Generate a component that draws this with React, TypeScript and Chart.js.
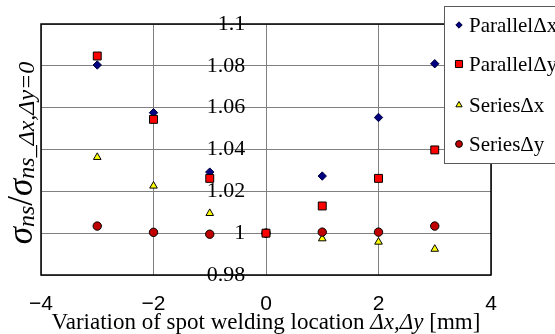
import React, { useEffect, useRef } from 'react';
import { Chart, registerables } from 'chart.js';

Chart.register(...registerables);

const xPositions = [-3, -2, -1, 0, 1, 2, 3];
const parallelDx = [1.0804, 1.0576, 1.0292, 1.0, 1.0273, 1.0553, 1.081];
const parallelDy = [1.0847, 1.0544, 1.0262, 1.0, 1.013, 1.0262, 1.0398];
const seriesDx = [1.0363, 1.0226, 1.0095, 1.0, 0.9974, 0.9958, 0.9924];
const seriesDy = [1.0034, 1.0004, 0.9995, 1.0, 1.0005, 1.0005, 1.0034];
const seriesNames = ['ParallelΔx', 'ParallelΔy', 'SeriesΔx', 'SeriesΔy'];
const xTicks = [-4, -2, 0, 2, 4];
const xTickLabels = ['−4', '−2', '0', '2', '4'];
const yTicks = [0.98, 1, 1.02, 1.04, 1.06, 1.08, 1.1];
const yTickLabels = ['0.98', '1', '1.02', '1.04', '1.06', '1.08', '1.1'];

const SERIF = "'Liberation Serif', 'Times New Roman', serif";
const SANS = "'Liberation Sans', Arial, sans-serif";

// y-axis label anchor (x-units), labels sit just left of the zero line
const Y_LABEL_ANCHOR = -0.37;

const markerStyles = [
  { shape: 'rectRot', fill: '#000080', stroke: '#00003a', radius: 4.2, order: 1 },
  { shape: 'rect', fill: '#ff0000', stroke: '#000000', radius: 5.6, order: 0 },
  { shape: 'triangle', fill: '#ffff00', stroke: '#000000', radius: 4.4, order: 3 },
  { shape: 'circle', fill: '#c00000', stroke: '#000000', radius: 4.2, order: 2 },
];

function drawMarker(ctx: CanvasRenderingContext2D, shape: string, x: number, y: number, r: number, fill: string, stroke: string) {
  ctx.save();
  ctx.beginPath();
  if (shape === 'rectRot') {
    ctx.moveTo(x, y - r); ctx.lineTo(x + r, y); ctx.lineTo(x, y + r); ctx.lineTo(x - r, y); ctx.closePath();
  } else if (shape === 'rect') {
    const s = r * Math.SQRT1_2;
    ctx.rect(x - s, y - s, 2 * s, 2 * s);
  } else if (shape === 'triangle') {
    ctx.moveTo(x, y - r);
    ctx.lineTo(x + r * Math.sin(2 * Math.PI / 3), y - r * Math.cos(2 * Math.PI / 3));
    ctx.lineTo(x - r * Math.sin(2 * Math.PI / 3), y - r * Math.cos(2 * Math.PI / 3));
    ctx.closePath();
  } else {
    ctx.arc(x, y, r, 0, Math.PI * 2);
  }
  ctx.fillStyle = fill;
  ctx.fill();
  ctx.lineWidth = 1;
  ctx.strokeStyle = stroke;
  ctx.stroke();
  ctx.restore();
}

type Seg = { t: string; size: number; italic: boolean; shift: number };

function segWidth(ctx: CanvasRenderingContext2D, segs: Seg[]) {
  let w = 0;
  for (const s of segs) {
    ctx.font = `${s.italic ? 'italic ' : ''}${s.size}px ${SERIF}`;
    w += ctx.measureText(s.t).width;
  }
  return w;
}

function drawSegs(ctx: CanvasRenderingContext2D, segs: Seg[], startX: number, baseY: number) {
  let x = startX;
  ctx.textBaseline = 'alphabetic';
  ctx.textAlign = 'left';
  for (const s of segs) {
    ctx.font = `${s.italic ? 'italic ' : ''}${s.size}px ${SERIF}`;
    ctx.fillText(s.t, x, baseY + s.shift);
    x += ctx.measureText(s.t).width;
  }
}

const decorPlugin = {
  id: 'decor',
  afterDraw(chart: any) {
    const { ctx, chartArea } = chart;
    const { left, top, right, bottom } = chartArea;
    ctx.save();
    // frame
    ctx.strokeStyle = '#000000';
    ctx.lineWidth = 1.5;
    ctx.strokeRect(left, top, right - left, bottom - top);

    ctx.fillStyle = '#000000';
    // x title
    const xSegs: Seg[] = [
      { t: 'Variation of spot welding location ', size: 23, italic: false, shift: 0 },
      { t: 'Δx,Δy', size: 23, italic: true, shift: 0 },
      { t: ' [mm]', size: 23, italic: false, shift: 0 },
    ];
    const xw = segWidth(ctx, xSegs);
    drawSegs(ctx, xSegs, (left + right) / 2 - xw / 2, 329);

    // y title
    const ySegs: Seg[] = [
      { t: 'σ', size: 35, italic: true, shift: 0 },
      { t: 'ns', size: 24, italic: true, shift: 2 },
      { t: '/', size: 35, italic: false, shift: 0 },
      { t: 'σ', size: 35, italic: true, shift: 0 },
      { t: 'ns_Δx,Δy=0', size: 24, italic: true, shift: 2 },
    ];
    const yw = segWidth(ctx, ySegs);
    ctx.save();
    ctx.translate(32, 153);
    ctx.rotate(-Math.PI / 2);
    drawSegs(ctx, ySegs, -yw / 2, 0);
    ctx.restore();

    // legend
    const lx = 444.5, ly = 6.5, lw = 130, lh = 157;
    ctx.fillStyle = '#ffffff';
    ctx.fillRect(lx, ly, lw, lh);
    ctx.strokeStyle = '#5a5a5a';
    ctx.lineWidth = 1;
    ctx.strokeRect(lx, ly, lw, lh);
    const rowY = [25, 64, 105, 144];
    const legR = [3.2, 5, 3.6, 3.4];
    seriesNames.forEach((name, i) => {
      const m = markerStyles[i];
      drawMarker(ctx, m.shape, 459, rowY[i], legR[i], m.fill, m.stroke);
      ctx.fillStyle = '#000000';
      ctx.font = `21px ${SERIF}`;
      ctx.textAlign = 'left';
      ctx.textBaseline = 'middle';
      ctx.fillText(name, 469, rowY[i] + 1);
    });
    ctx.restore();
  },
};

export default function App() {
  const canvasRef = useRef<HTMLCanvasElement | null>(null);

  useEffect(() => {
    if (!canvasRef.current) return;
    const seriesValues = [parallelDx, parallelDy, seriesDx, seriesDy];
    const chart = new Chart(canvasRef.current, {
      type: 'scatter',
      data: {
        datasets: seriesValues.map((vals, i) => ({
          label: seriesNames[i],
          data: vals.map((v, j) => ({ x: xPositions[j], y: v })),
          pointStyle: markerStyles[i].shape as any,
          pointRadius: markerStyles[i].radius,
          pointBackgroundColor: markerStyles[i].fill,
          pointBorderColor: markerStyles[i].stroke,
          pointBorderWidth: 1,
          showLine: false,
          order: markerStyles[i].order,
        })),
      },
      options: {
        responsive: false,
        animation: false,
        layout: { padding: { left: 41, top: 24, right: 64, bottom: 0 } },
        plugins: { legend: { display: false }, tooltip: { enabled: false } },
        scales: {
          x: {
            type: 'linear',
            min: -4,
            max: 4,
            afterBuildTicks: (scale: any) => {
              scale.ticks = xTicks.map((v) => ({ value: v }));
            },
            afterFit: (scale: any) => {
              scale.height = 59;
            },
            ticks: {
              autoSkip: false,
              maxRotation: 0,
              padding: 17,
              color: '#000000',
              font: { family: SANS, size: 21 },
              callback: (v: any) => xTickLabels[xTicks.indexOf(Number(v))],
            },
            grid: { color: '#808080', lineWidth: 1, drawTicks: false },
            border: { display: false },
          },
          y: {
            type: 'linear',
            position: { x: Y_LABEL_ANCHOR } as any,
            min: 0.98,
            max: 1.1,
            afterBuildTicks: (scale: any) => {
              scale.ticks = yTicks.map((v) => ({ value: v }));
            },
            ticks: {
              autoSkip: false,
              padding: 0,
              color: '#000000',
              font: { family: SERIF, size: 22 },
              callback: (v: any) => {
                const idx = yTicks.findIndex((t) => Math.abs(t - Number(v)) < 1e-9);
                return idx >= 0 ? yTickLabels[idx] : '';
              },
            },
            grid: { color: '#808080', lineWidth: 1, drawTicks: false },
            border: { display: false },
          },
        },
      },
      plugins: [decorPlugin],
    });
    return () => chart.destroy();
  }, []);

  return (
    <div style={{ position: 'fixed', left: 0, top: 0, width: 555, height: 334, background: '#ffffff' }}>
      <canvas ref={canvasRef} width={555} height={334} style={{ display: 'block' }} />
    </div>
  );
}
